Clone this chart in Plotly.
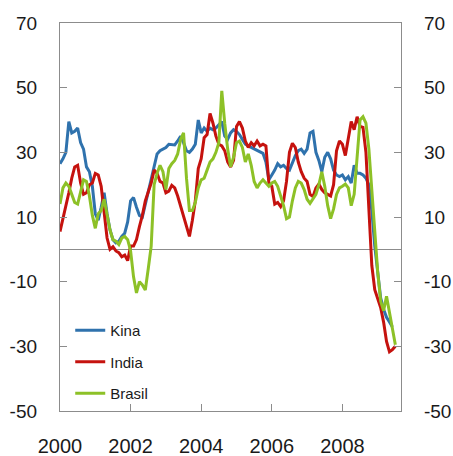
import plotly.graph_objects as go

# Monthly data starting January 2000
start_year = 2000
kina = [26.5, 28, 30, 39.5, 36, 36.5, 37.5, 33, 31, 25.5, 24, 19.5,
        11, 9, 13, 17.5, 11, 6, 3, 2, 2.5, 4, 5, 8.5,
        15, 16, 13, 10.5, 10, 14, 18, 21, 26, 29.5, 30.5, 31,
        31.5, 32.5, 32.5, 32.3, 33.5, 35, 33, 30.5, 30, 31, 32.5, 40,
        36, 37.5, 36.5, 37.5, 37, 37.5, 38.5, 39.5, 35, 34, 36, 37,
        36.5, 35.5, 34, 32.5, 32, 31.5, 31, 30.5, 30, 29.7, 27, 21.5,
        23, 24.5, 26.5, 25.5, 26, 25, 24.5, 27, 29, 30.5, 31, 29.7,
        31, 36, 36.5, 30, 27.5, 24, 28.5, 30, 28, 24.5, 23, 22.5,
        23, 21.5, 22.5, 20.5, 26, 23.5, 23.5, 23, 22, 20, 12, 1,
        -7, -15, -18.5, -21, -22.5, -24]
india = [5.5, 9.5, 12.5, 17.5, 22, 25.5, 26, 20.5, 17, 17.5, 20, 20.5,
         23.5, 23, 19.5, 12, 3.5, 0, 0.8, -0.5, -1, -2.3, -1.8, -3.5,
         1, 1, 3, 7, 10.5, 15, 17.5, 20.5, 24.5, 23.5, 21, 20.5,
         17.5, 18, 19.8, 19, 16.5, 13.5, 10, 7.5, 4, 9, 15, 25,
         28, 34.5, 35.5, 42, 39, 35, 32.5, 32, 30.5, 27, 25.5, 27.5,
         38, 39.5, 37.5, 33.5, 31.5, 33, 32, 33.5, 32, 32.5, 32, 20.5,
         19.5, 14, 14.5, 13.2, 15, 21, 30, 32.8, 31.5, 27, 24, 22,
         21, 17, 16.3, 19, 20.2, 18.5, 17.5, 17, 16.5, 20, 30.5, 33.5,
         32.5, 29, 35, 39.5, 37, 41, 38, 37.7, 30, 13, -5, -12.5,
         -15.5, -18, -22.5, -28.5, -31.7, -31, -30]
brasil = [14, 19, 20.5, 19.5, 17, 14.5, 14, 17.5, 21.5, 21, 16.5, 10.5,
          6.5, 11, 12, 15.5, 10.5, 6, 3, 2.5, 1.5, 3.5, 4, 3,
          -0.5, -8.5, -13.5, -10, -11, -12.6, -6, 1, 20, 23.5, 26, 24,
          18.5, 25, 26.5, 27.5, 29.5, 34, 36, 22, 12, 12, 14.5, 19,
          21.5, 22, 24.5, 27, 28, 30, 33, 49, 39, 31, 25.5, 28.5,
          33, 33.5, 31.5, 27, 29.5, 26, 21, 19, 20.5, 21.5, 20.5, 19.5,
          20.5, 21, 19.5, 16.5, 13.5, 9.5, 10, 15, 19, 21, 20.5, 18.5,
          15.5, 14.2, 15.5, 17, 20, 24, 19.5, 13.5, 9.5, 12.5, 17, 19,
          19.5, 20.2, 19, 13.5, 17, 30, 40, 41, 39, 31, 18, 5,
          -7, -16, -19, -14.5, -19.5, -23.5, -29.5]

series_names = ["Kina", "India", "Brasil"]
series_values = [kina, india, brasil]
series_colors = ["#2f72ad", "#c5120e", "#8dc127"]

year_ticks = [2000, 2002, 2004, 2006, 2008]
y_ticks = [-50, -30, -10, 10, 30, 50, 70]
y_tick_labels = ["-50", "-30", "-10", "10", "30", "50", "70"]

fig = go.Figure()
for name, vals, col in zip(series_names, series_values, series_colors):
    xs = [start_year + i / 12 for i in range(len(vals))]
    fig.add_trace(go.Scatter(x=xs, y=vals, mode="lines", name=name,
                             legendgroup=name,
                             line=dict(color=col, width=3)))

# dummy trace for right axis
fig.add_trace(go.Scatter(x=[None], y=[None], yaxis="y2", showlegend=False,
                         hoverinfo="skip"))

axis_col = "#8c8c8c"
fam = "Liberation Sans, Arial, sans-serif"
y_font = dict(family=fam, size=19, color="#1a1a1a")
x_font = dict(family=fam, size=20, color="#1a1a1a")

fig.update_layout(
    width=453, height=456,
    margin=dict(l=60, r=52, t=23, b=45, autoexpand=False),
    paper_bgcolor="white", plot_bgcolor="white",
    showlegend=True,
    legend=dict(x=0.03, y=0.25, xanchor="left", yanchor="top",
                font=dict(family=fam, size=15, color="#1a1a1a"),
                bgcolor="rgba(0,0,0,0)", tracegroupgap=9, itemwidth=30),
    xaxis=dict(range=[2000, 2009.66], tickvals=year_ticks,
               ticktext=[str(v) for v in year_ticks],
               showgrid=False, zeroline=False, automargin=False,
               showline=True, linecolor=axis_col, linewidth=1.3, mirror=True,
               ticks="inside", ticklen=7, tickcolor=axis_col, tickwidth=1,
               tickfont=x_font, ticklabelstandoff=17),
    yaxis=dict(range=[-50, 70], tickvals=y_ticks, ticktext=y_tick_labels,
               automargin=False,
               showgrid=False, zeroline=True, zerolinecolor=axis_col, zerolinewidth=1.3,
               showline=True, linecolor=axis_col, linewidth=1.3,
               ticks="inside", ticklen=7, tickcolor=axis_col, tickwidth=1,
               tickfont=y_font, ticklabelstandoff=18),
    yaxis2=dict(range=[-50, 70], tickvals=y_ticks, ticktext=y_tick_labels,
                overlaying="y", side="right",
                showgrid=False, zeroline=False, automargin=False,
                showline=True, linecolor=axis_col, linewidth=1.3,
                ticks="inside", ticklen=7, tickcolor=axis_col, tickwidth=1,
                tickfont=y_font, ticklabelstandoff=18),
)

fig.write_html("out.html", config={"displayModeBar": False},
               post_script="document.body.style.margin='0';")
